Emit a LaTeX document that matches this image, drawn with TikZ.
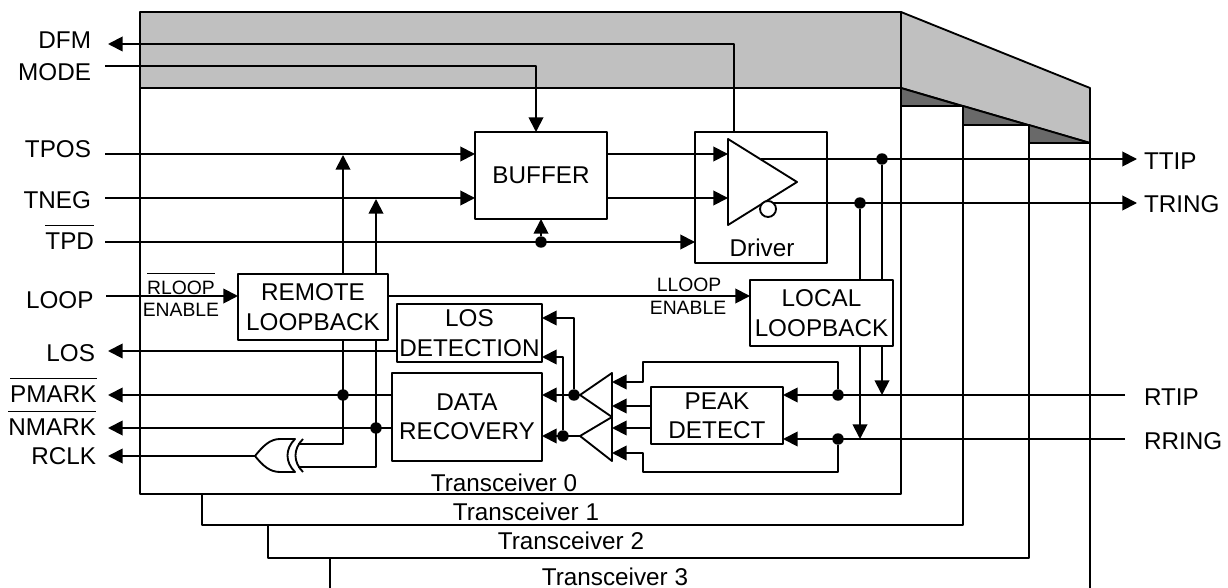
\documentclass[tikz,border=0pt]{standalone}
\usepackage{fontspec}
\setmainfont{Liberation Sans}
\usetikzlibrary{arrows.meta}
\newcommand{\barbig}[1]{$\overline{\mbox{\rule{0pt}{17pt}#1}}$}
\newcommand{\barsmall}[1]{$\overline{\mbox{\rule{0pt}{13.8pt}#1}}$}
\tikzset{every picture/.style={line width=1.4pt,line join=round},
  lbl/.style={inner sep=0pt,outer sep=0pt,font=\fontsize{18.2}{22}\selectfont},
  sml/.style={inner sep=0pt,outer sep=0pt,font=\fontsize{14.5}{18}\selectfont},
  block/.style={draw,fill=white,inner sep=0pt,outer sep=0pt,align=center,font=\fontsize{18.2}{22}\selectfont},
  dot/.style={circle,fill=black,inner sep=0pt,outer sep=0pt,minimum size=8.6pt},
  arr/.style={-{Triangle[length=11pt,width=11pt]}},
  band/.style={fill={rgb, 255:red, 192; green, 192; blue, 192 }},
  shade/.style={fill={rgb, 255:red, 105; green, 105; blue, 105 }}}

\begin{document}
\begin{tikzpicture}[x=0.75pt,y=0.75pt,yscale=-1,xscale=1]
\useasboundingbox (0,0) rectangle (1228,588);

%Shape: Top band
\draw [band] (140,12) -- (901,12) -- (901,88) -- (140,88) -- cycle ;
\draw [band] (901,12) -- (1090,88) -- (1090,143) -- (901,88) -- cycle ;
%Shape: Dark wedges
\draw [shade] (901,88) -- (962,106) -- (901,106) -- cycle ;
\draw [shade] (963,106) -- (1028,125) -- (963,125) -- cycle ;
\draw [shade] (1029,125) -- (1090,143) -- (1029,143) -- cycle ;
%Shape: Transceiver outlines
\draw (140,88) -- (140,494) -- (901,494) -- (901,88) ;
\draw (202,494) -- (202,525) -- (963,525) -- (963,106) ;
\draw (268,525) -- (268,558) -- (1029,558) -- (1029,125) ;
\draw (330,558) -- (330,588) ;
\draw (1090,143) -- (1090,588) ;

% Text Node
\draw (91,48.7) node [lbl,anchor=base east] (dfm) {DFM};
\draw (91,81) node [lbl,anchor=base east] (mode) {MODE};
\draw (91,157.3) node [lbl,anchor=base east] (tpos) {TPOS};
\draw (91,209) node [lbl,anchor=base east] (tneg) {TNEG};
\draw (94,249.3) node [lbl,anchor=base east] (tpd) {\barbig{TPD}};
\draw (93.5,308) node [lbl,anchor=base east] (loop) {LOOP};
\draw (95,361.7) node [lbl,anchor=base east] (los) {LOS};
\draw (96.5,402.7) node [lbl,anchor=base east] (pmark) {\barbig{PMARK}};
\draw (96,435.7) node [lbl,anchor=base east] (nmark) {\barbig{NMARK}};
\draw (96,464) node [lbl,anchor=base east] (rclk) {RCLK};
\draw (1144,170) node [lbl,anchor=base west] (ttip) {TTIP};
\draw (1144,212.7) node [lbl,anchor=base west] (tring) {TRING};
\draw (1144,405.5) node [lbl,anchor=base west] (rtip) {RTIP};
\draw (1144,449) node [lbl,anchor=base west] (rring) {RRING};
\draw (181,294) node [sml,anchor=base] (rloop) {\barsmall{RLOOP}};
\draw (181,316.7) node [sml,anchor=base] (rloopen) {ENABLE};
\draw (689,291.7) node [sml,anchor=base] (lloop) {LLOOP};
\draw (688,314) node [sml,anchor=base] (lloopen) {ENABLE};
\draw (504,491) node [lbl,anchor=base] (trans0) {Transceiver 0};
\draw (526,520) node [lbl,anchor=base] (trans1) {Transceiver 1};
\draw (571,549.5) node [lbl,anchor=base] (trans2) {Transceiver 2};
\draw (615,585) node [lbl,anchor=base] (trans3) {Transceiver 3};

%Coordinates: free wire ends
\coordinate (dfmw) at (108,44);
\coordinate (modew) at (105,66);
\coordinate (modein) at (536,132);
\coordinate (dfmup) at (734,132);
\coordinate (tposw) at (105,154);
\coordinate (tnegw) at (105,198);
\coordinate (tpdw) at (105,242);
\coordinate (loopw) at (106,296);
\coordinate (losw) at (108,351);
\coordinate (pmarkw) at (108,395);
\coordinate (nmarkw) at (108,428);
\coordinate (rclkw) at (108,456);
\coordinate (ttipe) at (1137,159);
\coordinate (tringe) at (1137,203);
\coordinate (rtipe) at (1125,395);
\coordinate (rringe) at (1125,439);
\coordinate (rlbpa) at (343,155);
\coordinate (rlbpb) at (376,199);
\coordinate (xorin1) at (298,444);
\coordinate (xorin2) at (298,467);
\coordinate (xortip) at (255,456);
\coordinate (drvtop) at (761,159);
\coordinate (ampup) at (580,395);
\coordinate (ampdn) at (580,436);

%Shape: Blocks
\draw (541,175.5) node [block,minimum width=99pt,minimum height=65.25pt] (buffer) {BUFFER};
\draw (761,197.5) node [block,minimum width=99pt,minimum height=98.25pt] (driver) {};
\draw (313,307) node [block,minimum width=112.5pt,minimum height=49.5pt] (remote) {REMOTE\\LOOPBACK};
\draw (821.5,313) node [block,minimum width=107.25pt,minimum height=49.5pt] (local) {LOCAL\\LOOPBACK};
\draw (469.5,333) node [block,minimum width=108.75pt,minimum height=43.5pt] (losdet) {LOS\\DETECTION};
\draw (467,417) node [block,minimum width=112.5pt,minimum height=66pt] (datarec) {DATA\\RECOVERY};
\draw (717,415.5) node [block,minimum width=99pt,minimum height=42.75pt] (peak) {PEAK\\DETECT};

% Text Node
\draw (762,248) node [lbl] (drvlbl) {Driver};

%Shape: Junctions
\draw (882,159) node [dot] (jtip) {};
\draw (860,203) node [dot] (jring) {};
\draw (541,242) node [dot] (jtpd) {};
\draw (343,395) node [dot] (jpm) {};
\draw (376,428) node [dot] (jnm) {};
\draw (574,395) node [dot] (jup) {};
\draw (563,436) node [dot] (jdn) {};
\draw (838,395) node [dot] (jrt) {};
\draw (838,439) node [dot] (jrr) {};

%Straight Lines: top wires
\draw [arr] (dfmup) -- (dfmup |- dfmw) -- (dfmw) ;
\draw [arr] (modew) -- (modew -| modein) -- (modein) ;
\draw [arr] (tposw) -- (tposw -| buffer.west) ;
\draw [arr] (tnegw) -- (tnegw -| buffer.west) ;
\draw [arr] (tpdw) -- (tpdw -| driver.west) ;
\draw [arr] (jtpd) -- (jtpd |- buffer.south) ;
\draw [arr] (buffer.east |- tposw) -- (728,154) ;
\draw [arr] (buffer.east |- tnegw) -- (728,198) ;
\draw [arr] (drvtop) -- (ttipe) ;
\draw [arr] (772,203) -- (tringe) ;
%Straight Lines: loopback wires
\draw [arr] (loopw) -- (loopw -| remote.west) ;
\draw [arr] (remote.east |- loopw) -- (loopw -| local.west) ;
\draw [arr] (rlbpa |- remote.north) -- (rlbpa) ;
\draw [arr] (rlbpb |- remote.north) -- (rlbpb) ;
\draw (rlbpa |- remote.south) -- (rlbpa |- xorin1) -- (xorin1) ;
\draw (rlbpb |- remote.south) -- (rlbpb |- xorin2) -- (xorin2) ;
\draw (jtip) -- (jtip |- local.north) ;
\draw (jring) -- (jring |- local.north) ;
\draw [arr] (jtip |- local.south) -- (jtip |- rtipe) ;
\draw [arr] (jring |- local.south) -- (jring |- rringe) ;
%Straight Lines: output wires
\draw [arr] (losdet.west |- losw) -- (losw) ;
\draw [arr] (datarec.west |- pmarkw) -- (pmarkw) ;
\draw [arr] (datarec.west |- nmarkw) -- (nmarkw) ;
\draw [arr] (xortip) -- (rclkw) ;
%Straight Lines: receive wires
\draw [arr] (rtipe) -- (rtipe -| peak.east) ;
\draw [arr] (rringe) -- (rringe -| peak.east) ;
\draw [arr] (jrt) -- (838,362) -- (643,362) -- (643,382) -- (612,382) ;
\draw [arr] (jrr) -- (838,472) -- (643,472) -- (643,453) -- (612,453) ;
\draw [arr] (peak.west |- 0,406) -- (612,406) ;
\draw [arr] (peak.west |- 0,428) -- (612,428) ;
\draw [arr] (ampup) -- (ampup -| datarec.east) ;
\draw [arr] (ampdn) -- (ampdn -| datarec.east) ;
\draw [arr] (jup) -- (jup |- 0,318) -- (losdet.east |- 0,318) ;
\draw [arr] (jdn) -- (jdn |- 0,357) -- (losdet.east |- 0,357) ;

%Shape: Driver triangle
\draw [fill=white] (728,139) -- (797,182) -- (728,225) -- cycle ;
\draw (768,209) node [circle,draw,fill=white,inner sep=0pt,outer sep=0pt,minimum size=12pt] (drvbub) {};
%Shape: Receive amplifiers
\draw [fill=white] (580,395) -- (612,373) -- (612,417) -- cycle ;
\draw [fill=white] (580,436) -- (612,417) -- (612,461) -- cycle ;
%Shape: XOR gate
\draw [fill=white] (xortip) .. controls (263,446) and (270,439) .. (280,439) -- (295,439) .. controls (285,449) and (285,462) .. (295,472) -- (280,472) .. controls (270,472) and (263,466) .. (xortip) -- cycle ;
\draw (303,439) .. controls (293,449) and (293,462) .. (303,472) ;

\end{tikzpicture}
\end{document}
